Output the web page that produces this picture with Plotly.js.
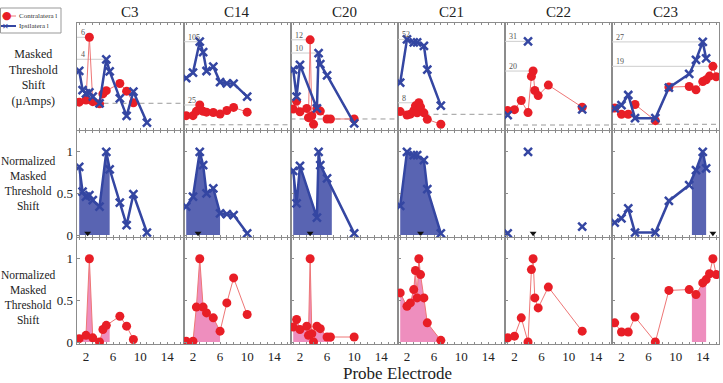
<!DOCTYPE html>
<html>
<head>
<meta charset="utf-8">
<script src="https://cdn.plot.ly/plotly-3.0.1.min.js"></script>
<style>
  html, body { margin: 0; padding: 0; background: #fff; }
  #chart { width: 723px; height: 383px; }
</style>
</head>
<body>
<div id="chart"></div>
<script>
// Masker channels (one column each)
const channelNames = ['C3', 'C14', 'C20', 'C21', 'C22', 'C23'];
const xTickValues = [1, 2, 3, 4, 5, 6, 7, 8, 9, 10, 11, 12, 13, 14, 15, 16];
const xTickLabels = ['', '2', '', '', '', '6', '', '', '', '10', '', '', '', '14', '', ''];
const normTickValues = [0, 0.5, 1];
const normTickLabels = ['0', '0.5', '1'];

// C3
const c3ContraX    = [1, 2, 2.5, 3, 4, 4.5, 5, 7, 8, 9];
const c3ContraRaw  = [0.1, 0.3, 6, 0.15, -0.05, 0.85, 1.15, 1.8, 1.1, 0.05];
const c3ContraNorm = [0.04, 0.08, 1, 0.05, 0, 0.15, 0.2, 0.31, 0.19, 0.03];
const c3IpsiX      = [1, 1.5, 2, 2.5, 3, 4, 5, 5.5, 7, 8, 9, 11];
const c3IpsiRaw    = [2.95, 1.2, 0.9, 1.0, 0.6, 0, 4, 2.9, 0.45, -1.15, 1.05, -1.75];
const c3IpsiNorm   = [0.82, 0.52, 0.46, 0.48, 0.42, 0.34, 1, 0.79, 0.39, 0.12, 0.49, 0.03];

// C14
const c14ContraX    = [1, 2, 2.5, 3, 3.5, 4, 5, 6, 7, 8, 10];
const c14ContraRaw  = [11.5, 11.5, 17, 25, 17, 16, 15.5, 13.5, 18, 22, 16];
const c14ContraNorm = [0.01, 0.01, 0.42, 1, 0.42, 0.35, 0.29, 0.13, 0.47, 0.77, 0.33];
const c14IpsiX      = [1, 2, 3, 3.5, 4, 5, 6, 7, 8, 10];
const c14IpsiRaw    = [59, 66, 105, 92, 68, 73.5, 54, 52.5, 52, 35.5];
const c14IpsiNorm   = [0.34, 0.46, 1, 0.84, 0.5, 0.56, 0.26, 0.25, 0.24, 0.02];

// C20
const c20ContraX    = [1, 1.5, 2, 3, 3.25, 3.5, 3.75, 4, 4.5, 5, 6, 6.5, 10];
const c20ContraRaw  = [1.5, 2.7, 1.1, 1.6, 0.2, 12, 0.5, -0.8, 1.6, 1.2, 0, 0, 0];
const c20ContraNorm = [0.18, 0.27, 0.15, 0.19, 0.08, 1, 0.1, 0, 0.19, 0.16, 0.06, 0.06, 0.06];
const c20IpsiX      = [1, 1.5, 2, 4.5, 4.75, 5, 6, 10];
const c20IpsiRaw    = [7.5, 3.4, 8.2, 1.6, 10, 8.3, 6.6, -0.65];
const c20IpsiNorm   = [0.77, 0.38, 0.83, 0.21, 1, 0.84, 0.68, 0.02];

// C21
const c21ContraX    = [1, 2, 2.5, 3, 3.25, 3.5, 3.75, 4, 4.5, 5, 7];
const c21ContraRaw  = [1.9, -0.5, 0.1, 2.5, 5.9, 1.0, 8, 5.2, 1.0, -3.5, -6.9];
const c21ContraNorm = [0.59, 0.43, 0.47, 0.63, 0.86, 0.53, 1, 0.81, 0.53, 0.23, 0.02];
const c21IpsiX      = [1, 2, 3, 3.5, 4.5, 5, 7];
const c21IpsiRaw    = [22, 52, 50, 50, 47.5, 31, 6];
const c21IpsiNorm   = [0.35, 1, 0.96, 0.96, 0.9, 0.55, 0.02];

// C22
const c22ContraX    = [1, 2, 3, 4, 4.5, 4.75, 5, 5.5, 7, 12];
const c22ContraRaw  = [5.4, 5.7, 9.1, 4.6, 18, 20, 12.8, 10.9, 14.8, 6.6];
const c22ContraNorm = [0.05, 0.07, 0.29, 0, 0.87, 1, 0.53, 0.41, 0.66, 0.13];
const c22IpsiX      = [1, 4, 12];
const c22IpsiRaw    = [3.7, 31, 5.8];
const c22IpsiNorm   = [0.02, 1, 0.1];

// C23
const c23ContraX    = [1, 2, 3, 4, 7, 9, 12, 13, 14, 14.5, 15, 15.5, 16];
const c23ContraRaw  = [5.3, 3.3, 3.3, 6.5, 1.2, 12.2, 12.4, 11.3, 14.0, 14.6, 15.8, 19, 15.6];
const c23ContraNorm = [0.23, 0.12, 0.12, 0.3, 0, 0.62, 0.63, 0.57, 0.71, 0.75, 0.82, 1, 0.81];
const c23IpsiX      = [1, 2, 3, 4, 7, 9, 12, 13, 14, 14.5];
const c23IpsiRaw    = [5.2, 6.3, 9.6, 2.0, 2.0, 12.0, 16.5, 21.1, 27, 21.6];
const c23IpsiNorm   = [0.15, 0.2, 0.32, 0.03, 0.03, 0.41, 0.6, 0.78, 1, 0.8];

// Masker electrode markers and shaded electrode spans per channel
const maskerElectrode = [2.25, 2.75, 3.5, 4, 4.75, 15.5];
const shadedSpanLo    = [1, 1, 1, 1, null, 12.4];
const shadedSpanHi    = [5.5, 6, 6.7, 7, null, 14.5];

const panels = [
  { cx: c3ContraX,  cr: c3ContraRaw,  cn: c3ContraNorm,  ix: c3IpsiX,  ir: c3IpsiRaw,  inorm: c3IpsiNorm,  joined: true },
  { cx: c14ContraX, cr: c14ContraRaw, cn: c14ContraNorm, ix: c14IpsiX, ir: c14IpsiRaw, inorm: c14IpsiNorm, joined: true },
  { cx: c20ContraX, cr: c20ContraRaw, cn: c20ContraNorm, ix: c20IpsiX, ir: c20IpsiRaw, inorm: c20IpsiNorm, joined: true },
  { cx: c21ContraX, cr: c21ContraRaw, cn: c21ContraNorm, ix: c21IpsiX, ir: c21IpsiRaw, inorm: c21IpsiNorm, joined: true },
  { cx: c22ContraX, cr: c22ContraRaw, cn: c22ContraNorm, ix: c22IpsiX, ir: c22IpsiRaw, inorm: c22IpsiNorm, joined: false },
  { cx: c23ContraX, cr: c23ContraRaw, cn: c23ContraNorm, ix: c23IpsiX, ir: c23IpsiRaw, inorm: c23IpsiNorm, joined: true }
];

// ---- layout geometry (pixels) ----
const W = 723, H = 383;
const colLeft = [76.5, 183.5, 290.5, 397.5, 505, 612];
const colWidth = 107;
const rowSpan = [[23, 130], [131, 237], [238, 344]];
const xRange = [0.6, 16.4];
const normRange = [-0.024, 1.25];
const rawRanges = [[-2.43, 7.3], [-6.6, 128.7], [-1.67, 14.55], [-10.9, 63.4], [-1.85, 37.8], [-1.87, 33.2]];

const SERIF = 'Liberation Serif, Times New Roman, serif';
const RED = 'rgb(232,30,38)';
const RED_LINE = 'rgb(238,118,118)';
const BLUE = 'rgb(52,70,162)';
const BLUE_FILL = 'rgba(62,74,165,0.86)';
const PINK_FILL = 'rgb(238,142,190)';
const AXIS_GRAY = '#8c8c8c';

const px2x = p => p / W;
const px2y = p => 1 - p / H;

function axisIds(row, col) {
  const n = row * 6 + col + 1;
  return {
    xKey: n === 1 ? 'xaxis' : 'xaxis' + n,
    yKey: n === 1 ? 'yaxis' : 'yaxis' + n,
    x: n === 1 ? 'x' : 'x' + n,
    y: n === 1 ? 'y' : 'y' + n
  };
}

// value on the polyline through (xs, ys) at position x
function valueAt(xs, ys, x) {
  for (let i = 0; i < xs.length - 1; i++) {
    if (x >= xs[i] && x <= xs[i + 1]) {
      const t = (x - xs[i]) / (xs[i + 1] - xs[i]);
      return ys[i] + t * (ys[i + 1] - ys[i]);
    }
  }
  return x <= xs[0] ? ys[0] : ys[ys.length - 1];
}
// polyline restricted to [lo, hi], used for the shaded area
function clipped(xs, ys, lo, hi) {
  const ox = [lo], oy = [valueAt(xs, ys, lo)];
  xs.forEach((x, i) => { if (x > lo && x < hi) { ox.push(x); oy.push(ys[i]); } });
  ox.push(hi); oy.push(valueAt(xs, ys, hi));
  return { x: ox, y: oy };
}

const layout = {
  width: W, height: H,
  margin: { l: 0, r: 0, t: 0, b: 0 },
  paper_bgcolor: '#fff', plot_bgcolor: '#fff',
  showlegend: false,
  font: { family: SERIF, color: '#222' },
  shapes: [], annotations: []
};
const traces = [];

for (let row = 0; row < 3; row++) {
  for (let col = 0; col < 6; col++) {
    const id = axisIds(row, col);
    layout[id.xKey] = {
      domain: [px2x(colLeft[col]), px2x(colLeft[col] + colWidth)],
      anchor: id.y, range: xRange,
      showline: true, linecolor: AXIS_GRAY, linewidth: 1, mirror: 'ticks',
      ticks: 'inside', ticklen: 2, tickcolor: AXIS_GRAY, tickwidth: 1,
      tickvals: xTickValues, ticktext: xTickLabels,
      showticklabels: row === 2,
      tickfont: { family: SERIF, size: 13, color: '#222' },
      showgrid: false, zeroline: false, fixedrange: true
    };
    const yAxis = {
      domain: [px2y(rowSpan[row][1]), px2y(rowSpan[row][0])],
      anchor: id.x,
      range: row === 0 ? rawRanges[col] : normRange,
      showline: true, linecolor: AXIS_GRAY, linewidth: 1, mirror: true,
      showgrid: false, zeroline: false, fixedrange: true
    };
    if (row === 0) {
      yAxis.ticks = '';
      yAxis.showticklabels = false;
    } else {
      yAxis.ticks = 'inside'; yAxis.ticklen = 3; yAxis.tickcolor = AXIS_GRAY;
      yAxis.tickvals = normTickValues; yAxis.ticktext = normTickLabels;
      yAxis.showticklabels = col === 0;
      yAxis.tickfont = { family: SERIF, size: 13, color: '#222' };
    }
    layout[id.yKey] = yAxis;
  }
}

panels.forEach((p, col) => {
  const top = axisIds(0, col), mid = axisIds(1, col), bot = axisIds(2, col);

  // --- top row: raw shifts ---
  layout.shapes.push({
    type: 'line', xref: top.x + ' domain', yref: top.y, x0: 0, x1: 1, y0: 0, y1: 0,
    line: { color: '#9a9a9a', width: 1, dash: '5px,4px' }, layer: 'below'
  });
  [[p.cx, p.cr], [p.ix, p.ir]].forEach(([xs, ys]) => {
    const peak = Math.max(...ys);
    const at = xs[ys.indexOf(peak)];
    layout.shapes.push({
      type: 'line', xref: top.x, yref: top.y, x0: xRange[0], x1: at, y0: peak, y1: peak,
      line: { color: '#cdcdcd', width: 1 }, layer: 'below'
    });
    layout.annotations.push({
      xref: top.x, yref: top.y, x: xRange[0], y: peak, xanchor: 'left', yanchor: 'bottom',
      xshift: 2, yshift: -2, text: String(Math.round(peak)), showarrow: false,
      font: { family: SERIF, size: 8, color: '#555' }
    });
  });
  traces.push({
    type: 'scatter', mode: 'lines+markers', x: p.cx, y: p.cr, xaxis: top.x, yaxis: top.y,
    line: { color: RED_LINE, width: 1 }, marker: { color: RED, size: 9 }, hoverinfo: 'skip'
  });
  traces.push({
    type: 'scatter', mode: p.joined ? 'lines+markers' : 'markers', x: p.ix, y: p.ir,
    xaxis: top.x, yaxis: top.y,
    line: { color: BLUE, width: 2.5 },
    marker: { symbol: 'x-thin-open', size: 8, color: BLUE, line: { color: BLUE, width: 2.5 } },
    hoverinfo: 'skip'
  });

  // --- shaded spans ---
  const lo = shadedSpanLo[col], hi = shadedSpanHi[col];
  if (lo !== null) {
    const b = clipped(p.ix, p.inorm, lo, hi);
    traces.push({
      type: 'scatter', mode: 'lines', x: b.x, y: b.y, xaxis: mid.x, yaxis: mid.y,
      fill: 'tozeroy', fillcolor: BLUE_FILL, line: { width: 0, color: BLUE_FILL }, hoverinfo: 'skip'
    });
    const r = clipped(p.cx, p.cn, lo, hi);
    traces.push({
      type: 'scatter', mode: 'lines', x: r.x, y: r.y, xaxis: bot.x, yaxis: bot.y,
      fill: 'tozeroy', fillcolor: PINK_FILL, line: { width: 0, color: PINK_FILL }, hoverinfo: 'skip'
    });
  }

  // --- middle row: normalized ipsilateral ---
  traces.push({
    type: 'scatter', mode: p.joined ? 'lines+markers' : 'markers', x: p.ix, y: p.inorm,
    xaxis: mid.x, yaxis: mid.y,
    line: { color: BLUE, width: 2.5 },
    marker: { symbol: 'x-thin-open', size: 8, color: BLUE, line: { color: BLUE, width: 2.5 } },
    hoverinfo: 'skip'
  });
  traces.push({
    type: 'scatter', mode: 'markers', x: [maskerElectrode[col]], y: [0.02],
    xaxis: mid.x, yaxis: mid.y,
    marker: { symbol: 'triangle-down', size: 6, color: '#111' }, hoverinfo: 'skip'
  });

  // --- bottom row: normalized contralateral ---
  traces.push({
    type: 'scatter', mode: 'lines+markers', x: p.cx, y: p.cn, xaxis: bot.x, yaxis: bot.y,
    line: { color: RED_LINE, width: 1 }, marker: { color: RED, size: 9 }, hoverinfo: 'skip'
  });

  // column title
  layout.annotations.push({
    xref: 'paper', yref: 'paper', x: px2x(colLeft[col] + colWidth / 2), y: px2y(12),
    text: channelNames[col], showarrow: false, xanchor: 'center', yanchor: 'middle',
    font: { family: SERIF, size: 15, color: '#222' }
  });
});

// row labels
const rowLabels = [
  { text: 'Masked<br>Threshold<br>Shift<br>(\u00b5Amps)', x: 33, y: 77, size: 12 },
  { text: 'Normalized<br>Masked<br>Threshold<br>Shift', x: 28.5, y: 183, size: 11.5 },
  { text: 'Normalized<br>Masked<br>Threshold<br>Shift', x: 28.5, y: 297, size: 11.5 }
];
rowLabels.forEach(g => {
  layout.annotations.push({
    xref: 'paper', yref: 'paper', x: px2x(g.x), y: px2y(g.y), text: g.text, showarrow: false,
    xanchor: 'center', yanchor: 'middle', align: 'center',
    font: { family: SERIF, size: g.size, color: '#222' }
  });
});

// x-axis title
layout.annotations.push({
  xref: 'paper', yref: 'paper', x: px2x(397), y: px2y(373), text: 'Probe Electrode',
  showarrow: false, xanchor: 'center', yanchor: 'middle',
  font: { family: SERIF, size: 17, color: '#222' }
});

// legend box
layout.shapes.push({
  type: 'rect', xref: 'paper', yref: 'paper', x0: px2x(0.5), x1: px2x(61), y0: px2y(33), y1: px2y(8),
  line: { color: '#999', width: 1 }, fillcolor: '#fff'
});
layout.shapes.push({
  type: 'line', xref: 'paper', yref: 'paper', x0: px2x(2), x1: px2x(16), y0: px2y(16), y1: px2y(16),
  line: { color: RED_LINE, width: 1 }
});
layout.shapes.push({
  type: 'line', xref: 'paper', yref: 'paper', x0: px2x(1), x1: px2x(16), y0: px2y(26), y1: px2y(26),
  line: { color: BLUE, width: 2 }
});
layout.annotations.push({
  xref: 'paper', yref: 'paper', x: px2x(7), y: px2y(16), text: '\u25cf', showarrow: false,
  xanchor: 'center', yanchor: 'middle', font: { family: 'DejaVu Sans', size: 11, color: RED }
});
layout.annotations.push({
  xref: 'paper', yref: 'paper', x: px2x(5), y: px2y(26), text: '<b>\u2715</b>', showarrow: false,
  xanchor: 'center', yanchor: 'middle', font: { family: 'DejaVu Sans', size: 8, color: BLUE }
});
layout.annotations.push({
  xref: 'paper', yref: 'paper', x: px2x(16.5), y: px2y(16), text: 'Contralatera l', showarrow: false,
  xanchor: 'left', yanchor: 'middle', font: { family: SERIF, size: 7, color: '#333' }
});
layout.annotations.push({
  xref: 'paper', yref: 'paper', x: px2x(16.5), y: px2y(26), text: 'Ipsilatera l', showarrow: false,
  xanchor: 'left', yanchor: 'middle', font: { family: SERIF, size: 7, color: '#333' }
});

Plotly.newPlot('chart', traces, layout, { staticPlot: true, displayModeBar: false });
</script>
</body>
</html>
